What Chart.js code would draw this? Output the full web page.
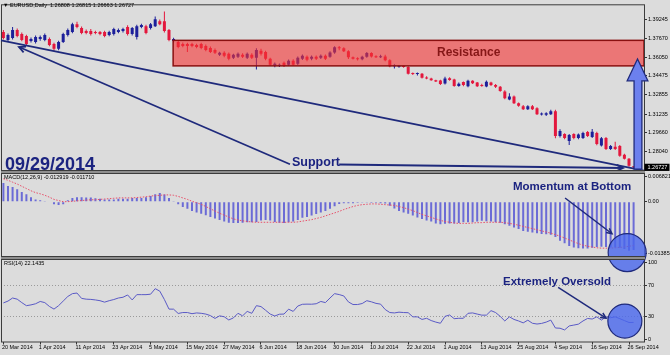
<!DOCTYPE html>
<html lang="en">
<head>
<meta charset="UTF-8">
<title>EURUSD Daily</title>
<script src="https://cdn.jsdelivr.net/npm/chart.js@4"></script>
<style>
  body { margin: 0; background: #dcdcdc; }
  #wrap { position: relative; width: 670px; height: 355px; overflow: hidden; font-family: "Liberation Sans", Arial, sans-serif; }
  #wrap canvas { position: absolute; left: 0; top: 0; }
  .lbl { position: absolute; white-space: nowrap; line-height: 1; }
  .small { font-size: 5.5px; color: #000; }
  .note { font-weight: bold; color: #1b2380; }
</style>
</head>
<body>
<div id="wrap">
  <canvas id="chart" width="670" height="355"></canvas>
  <div class="lbl small" style="left:3px;top:3.3px">&#9660; EURUSD,Daily&nbsp; 1.26808 1.26815 1.26663 1.26727</div>
  <div class="lbl small" style="left:4px;top:174.8px">MACD(12,26,9) -0.012919 -0.011710</div>
  <div class="lbl small" style="left:4px;top:261.3px">RSI(14) 22.1435</div>
  <div class="lbl note" style="left:5px;top:154.6px;font-size:18px">09/29/2014</div>
  <div class="lbl note" style="left:292px;top:156.4px;font-size:12.5px">Support</div>
  <div class="lbl note" style="left:437px;top:46.4px;font-size:12px;color:#861717">Resistance</div>
  <div class="lbl note" style="left:513px;top:180.5px;font-size:11.5px">Momentum at Bottom</div>
  <div class="lbl note" style="left:503px;top:275.5px;font-size:11.5px">Extremely Oversold</div>
</div>
<script>
// daily EURUSD candles, 20 Mar 2014 .. 29 Sep 2014 (one entry per trading day)
const opens = [
  1.3818, 1.3751, 1.3768, 1.3835, 1.3801, 1.3785, 1.3743, 1.3734, 1.3760, 1.3751,
  1.3760, 1.3718, 1.3676, 1.3734, 1.3793, 1.3818, 1.3885, 1.3852, 1.3827, 1.3827,
  1.3818, 1.3818, 1.3818, 1.3793, 1.3801, 1.3818, 1.3827, 1.3860, 1.3801, 1.3776,
  1.3860, 1.3868, 1.3852, 1.3868, 1.3910, 1.3910, 1.3835, 1.3743, 1.3734, 1.3718,
  1.3718, 1.3718, 1.3709, 1.3718, 1.3701, 1.3684, 1.3667, 1.3625, 1.3642, 1.3634,
  1.3600, 1.3609, 1.3625, 1.3600, 1.3625, 1.3600, 1.3659, 1.3650, 1.3592, 1.3533,
  1.3533, 1.3558, 1.3542, 1.3575, 1.3550, 1.3592, 1.3609, 1.3592, 1.3609, 1.3600,
  1.3617, 1.3609, 1.3645, 1.3690, 1.3680, 1.3655, 1.3605, 1.3592, 1.3588, 1.3610,
  1.3640, 1.3612, 1.3605, 1.3612, 1.3580, 1.3528, 1.3525, 1.3528, 1.3522, 1.3465,
  1.3462, 1.3465, 1.3432, 1.3425, 1.3410, 1.3408, 1.3382, 1.3428, 1.3416, 1.3362,
  1.3395, 1.3360, 1.3405, 1.3390, 1.3370, 1.3358, 1.3390, 1.3370, 1.3355, 1.3315,
  1.3248, 1.3273, 1.3215, 1.3190, 1.3165, 1.3190, 1.3173, 1.3120, 1.3118, 1.3123,
  1.3148, 1.2938, 1.2955, 1.2896, 1.2955, 1.2922, 1.2922, 1.2971, 1.2930, 1.2963,
  1.2858, 1.2922, 1.2829, 1.2846, 1.2854, 1.2780, 1.2746, 1.26808
];
const highs = [
  1.3835, 1.3805, 1.3860, 1.3848, 1.3815, 1.3795, 1.3772, 1.3790, 1.3788, 1.3805,
  1.3772, 1.3728, 1.3745, 1.3812, 1.3848, 1.3898, 1.3905, 1.3865, 1.3840, 1.3845,
  1.3830, 1.3828, 1.3830, 1.3830, 1.3855, 1.3848, 1.3855, 1.3875, 1.3862, 1.3880,
  1.3888, 1.3880, 1.3895, 1.3950, 1.3925, 1.3993, 1.3845, 1.3770, 1.3745, 1.3730,
  1.3728, 1.3728, 1.3720, 1.3728, 1.3712, 1.3695, 1.3678, 1.3652, 1.3655, 1.3645,
  1.3635, 1.3645, 1.3638, 1.3645, 1.3638, 1.3680, 1.3677, 1.3660, 1.3600, 1.3560,
  1.3552, 1.3568, 1.3585, 1.3588, 1.3612, 1.3628, 1.3620, 1.3620, 1.3620, 1.3628,
  1.3628, 1.3655, 1.3698, 1.3700, 1.3690, 1.3665, 1.3612, 1.3605, 1.3618, 1.3650,
  1.3648, 1.3622, 1.3625, 1.3625, 1.3588, 1.3545, 1.3540, 1.3535, 1.3528, 1.3475,
  1.3475, 1.3472, 1.3445, 1.3432, 1.3415, 1.3415, 1.3440, 1.3435, 1.3422, 1.3390,
  1.3400, 1.3415, 1.3410, 1.3395, 1.3380, 1.3408, 1.3398, 1.3378, 1.3362, 1.3325,
  1.3300, 1.3280, 1.3222, 1.3200, 1.3198, 1.3200, 1.3182, 1.3138, 1.3140, 1.3160,
  1.3160, 1.2995, 1.2962, 1.2955, 1.2962, 1.2960, 1.2975, 1.2980, 1.2998, 1.2975,
  1.2930, 1.2930, 1.2862, 1.2890, 1.2862, 1.2788, 1.2752, 1.26815
];
const lows = [
  1.3755, 1.3740, 1.3755, 1.3775, 1.3740, 1.3705, 1.3730, 1.3722, 1.3745, 1.3740,
  1.3698, 1.3660, 1.3665, 1.3725, 1.3780, 1.3808, 1.3850, 1.3800, 1.3800, 1.3790,
  1.3800, 1.3792, 1.3775, 1.3782, 1.3790, 1.3808, 1.3815, 1.3790, 1.3790, 1.3755,
  1.3850, 1.3800, 1.3840, 1.3860, 1.3875, 1.3815, 1.3740, 1.3730, 1.3680, 1.3690,
  1.3650, 1.3690, 1.3682, 1.3672, 1.3655, 1.3640, 1.3632, 1.3615, 1.3605, 1.3580,
  1.3590, 1.3598, 1.3598, 1.3590, 1.3590, 1.3502, 1.3620, 1.3580, 1.3530, 1.3520,
  1.3522, 1.3522, 1.3530, 1.3532, 1.3540, 1.3582, 1.3572, 1.3580, 1.3582, 1.3590,
  1.3582, 1.3600, 1.3635, 1.3665, 1.3650, 1.3590, 1.3585, 1.3578, 1.3580, 1.3600,
  1.3602, 1.3598, 1.3598, 1.3570, 1.3520, 1.3510, 1.3515, 1.3515, 1.3458, 1.3455,
  1.3450, 1.3425, 1.3418, 1.3405, 1.3395, 1.3370, 1.3375, 1.3405, 1.3355, 1.3355,
  1.3360, 1.3350, 1.3378, 1.3352, 1.3355, 1.3350, 1.3362, 1.3345, 1.3312, 1.3250,
  1.3240, 1.3208, 1.3185, 1.3158, 1.3158, 1.3158, 1.3115, 1.3112, 1.3108, 1.3115,
  1.2920, 1.2925, 1.2910, 1.2862, 1.2910, 1.2910, 1.2912, 1.2930, 1.2922, 1.2860,
  1.2850, 1.2820, 1.2820, 1.2820, 1.2762, 1.2738, 1.2678, 1.26663
];
const closes = [
  1.3768, 1.3793, 1.3835, 1.3785, 1.3751, 1.3718, 1.3760, 1.3776, 1.3776, 1.3793,
  1.3709, 1.3676, 1.3734, 1.3801, 1.3835, 1.3885, 1.3860, 1.3810, 1.3810, 1.3801,
  1.3810, 1.3801, 1.3785, 1.3818, 1.3843, 1.3835, 1.3843, 1.3801, 1.3852, 1.3868,
  1.3877, 1.3810, 1.3885, 1.3927, 1.3885, 1.3827, 1.3751, 1.3760, 1.3692, 1.3701,
  1.3701, 1.3701, 1.3692, 1.3684, 1.3667, 1.3650, 1.3642, 1.3642, 1.3617, 1.3592,
  1.3625, 1.3634, 1.3609, 1.3634, 1.3600, 1.3667, 1.3634, 1.3592, 1.3542, 1.3550,
  1.3542, 1.3533, 1.3575, 1.3542, 1.3600, 1.3617, 1.3584, 1.3609, 1.3592, 1.3617,
  1.3592, 1.3645, 1.3690, 1.3680, 1.3655, 1.3605, 1.3592, 1.3588, 1.3610, 1.3640,
  1.3612, 1.3605, 1.3612, 1.3580, 1.3528, 1.3530, 1.3528, 1.3522, 1.3465, 1.3462,
  1.3465, 1.3432, 1.3425, 1.3410, 1.3400, 1.3378, 1.3424, 1.3412, 1.3362, 1.3380,
  1.3370, 1.3405, 1.3385, 1.3360, 1.3362, 1.3398, 1.3370, 1.3355, 1.3320, 1.3257,
  1.3273, 1.3215, 1.3195, 1.3165, 1.3190, 1.3165, 1.3123, 1.3128, 1.3131, 1.3148,
  1.2938, 1.2980, 1.2922, 1.2946, 1.2922, 1.2950, 1.2963, 1.2938, 1.2975, 1.2871,
  1.2920, 1.2829, 1.2854, 1.2829, 1.2771, 1.2746, 1.2687, 1.26727
];

// MACD(12,26,9): main line drawn as histogram, signal as dotted line
const macdHist = [
  0.0050, 0.0042, 0.0039, 0.0033, 0.0026, 0.0020, 0.0012, 0.0006, 0.0004, 0.0002,
  0.0000, -0.0007, -0.0009, -0.0007, 0.0004, 0.0010, 0.0012, 0.0012, 0.0011, 0.0011,
  0.0009, 0.0008, 0.0006, 0.0006, 0.0006, 0.0008, 0.0008, 0.0008, 0.0010, 0.0010,
  0.0010, 0.0012, 0.0015, 0.0020, 0.0023, 0.0019, 0.0010, 0.0002, -0.0007, -0.0014,
  -0.0019, -0.0025, -0.0029, -0.0032, -0.0036, -0.0041, -0.0045, -0.0049, -0.0053, -0.0056,
  -0.0057, -0.0057, -0.0056, -0.0055, -0.0055, -0.0054, -0.0050, -0.0049, -0.0050, -0.0054,
  -0.0056, -0.0057, -0.0055, -0.0053, -0.0049, -0.0043, -0.0041, -0.0037, -0.0033, -0.0029,
  -0.0025, -0.0019, -0.0012, -0.0006, -0.0004, -0.0004, -0.0004, -0.0003, -0.0002, -0.0002,
  -0.0003, -0.0003, -0.0004, -0.0005, -0.0011, -0.0018, -0.0025, -0.0029, -0.0032, -0.0037,
  -0.0042, -0.0046, -0.0050, -0.0053, -0.0058, -0.0060, -0.0059, -0.0058, -0.0058, -0.0057,
  -0.0055, -0.0055, -0.0055, -0.0053, -0.0051, -0.0052, -0.0053, -0.0055, -0.0056, -0.0060,
  -0.0064, -0.0069, -0.0073, -0.0078, -0.0080, -0.0082, -0.0084, -0.0086, -0.0087, -0.0088,
  -0.0094, -0.0104, -0.0111, -0.0118, -0.0122, -0.0124, -0.0125, -0.0125, -0.0123, -0.0121,
  -0.0120, -0.0121, -0.0122, -0.0122, -0.0123, -0.0126, -0.0131, -0.0129
];
const macdSignal = [
  0.0061, 0.0057, 0.0052, 0.0047, 0.0041, 0.0035, 0.0029, 0.0024, 0.0021, 0.0017,
  0.0012, 0.0006, 0.0003, 0.0000, 0.0000, 0.0001, 0.0002, 0.0003, 0.0004, 0.0005,
  0.0005, 0.0006, 0.0007, 0.0008, 0.0009, 0.0010, 0.0010, 0.0010, 0.0010, 0.0011,
  0.0012, 0.0013, 0.0015, 0.0016, 0.0017, 0.0018, 0.0018, 0.0017, 0.0014, 0.0010,
  0.0006, 0.0001, -0.0003, -0.0007, -0.0013, -0.0019, -0.0025, -0.0031, -0.0036, -0.0041,
  -0.0046, -0.0049, -0.0051, -0.0053, -0.0054, -0.0055, -0.0055, -0.0055, -0.0055, -0.0055,
  -0.0055, -0.0055, -0.0055, -0.0055, -0.0054, -0.0052, -0.0050, -0.0048, -0.0045, -0.0042,
  -0.0038, -0.0034, -0.0030, -0.0026, -0.0021, -0.0017, -0.0013, -0.0010, -0.0008, -0.0007,
  -0.0006, -0.0006, -0.0007, -0.0008, -0.0009, -0.0010, -0.0013, -0.0016, -0.0020, -0.0024,
  -0.0029, -0.0034, -0.0038, -0.0042, -0.0046, -0.0050, -0.0053, -0.0055, -0.0057, -0.0058,
  -0.0058, -0.0058, -0.0057, -0.0056, -0.0056, -0.0055, -0.0055, -0.0055, -0.0055, -0.0056,
  -0.0058, -0.0060, -0.0063, -0.0066, -0.0069, -0.0072, -0.0075, -0.0078, -0.0081, -0.0084,
  -0.0088, -0.0092, -0.0097, -0.0102, -0.0107, -0.0112, -0.0116, -0.0119, -0.0121, -0.0123,
  -0.0124, -0.0124, -0.0124, -0.0123, -0.0122, -0.0121, -0.0119, -0.0117
];

// RSI(14)
const rsiValues = [
  47.6, 50, 54, 52.5, 48, 44, 45, 46.5, 49.5, 48,
  43, 39.5, 44, 50, 56, 59.7, 60.5, 53.5, 52.5, 52.2,
  51.5, 50.5, 48.6, 50.5, 52, 54, 55, 58, 51.5, 58.4,
  58.4, 58.4, 59, 66.2, 63, 52, 39.5, 39.4, 33.8, 35,
  35, 33.5, 34.5, 34, 33, 31, 27.3, 30.7, 29.5, 25.3,
  28, 34, 30.7, 36.5, 34, 44, 42.8, 38, 33, 30.5,
  32.8, 33, 39.4, 36.5, 43.5, 45.8, 46, 45.9, 46.5, 49.5,
  48, 54, 59.7, 58.5, 56.7, 48.9, 45.5, 45.5, 46.8, 50.5,
  49, 47, 46, 39, 35, 34.5, 35.5, 35, 34.8, 29.4,
  29.4, 26, 27.5, 24.5, 22.5, 21, 30, 31.8, 27, 27.5,
  27.5, 34, 34.5, 33, 31.6, 31.6, 37.5, 35, 30, 24,
  29.4, 26, 24, 21.5, 25, 21, 20, 20.8, 22.5, 25.1,
  14.8, 14.5, 12.3, 17.5, 18.6, 19.8, 24, 27.3, 26.5, 29.4,
  25.1, 29.4, 28.2, 29.4, 27, 24.5, 22, 22.1
];

const tickBars = [0, 8, 16, 24, 32, 40, 48, 56, 64, 72, 80, 88, 96, 104, 112, 120, 128, 136];
const tickLabels = ['20 Mar 2014', '1 Apr 2014', '11 Apr 2014', '23 Apr 2014', '5 May 2014',
  '15 May 2014', '27 May 2014', '6 Jun 2014', '18 Jun 2014', '30 Jun 2014', '10 Jul 2014',
  '22 Jul 2014', '1 Aug 2014', '13 Aug 2014', '25 Aug 2014', '4 Sep 2014', '16 Sep 2014', '26 Sep 2014'];
const priceTicks = [1.39245, 1.37670, 1.36050, 1.34475, 1.32855, 1.31235, 1.29660, 1.28040];
const macdTicks = [0.006821, 0, -0.013855];
const rsiTicks = [100, 70, 30, 0];
const lastPrice = 1.26727;

const bullColor = '#1c1f9a';
const bearColor = '#e3173d';
const navy = '#1f2a7c';
const axisFont = { family: 'Liberation Sans', size: 5.5 };

const idx = closes.map((_, i) => i);
const candleColors = idx.map(i => closes[i] >= opens[i] ? bullColor : bearColor);

// drawings, placed in data units (bar index / panel value)
const drawings = {
  zone: { fromBar: 36.9, top: 1.37479, bottom: 1.35318 },
  trend: [[-0.52, 1.37479], [139.26, 1.26445]],
  toLeft: [[62.3, 1.26992], [3.4, 1.36915]],
  toRight: [[73.0, 1.26967], [134.7, 1.26672]],
  upArrow: { shaft: [137.1, 138.8], head: [135.6, 140.1], tipBar: 137.85, tip: 1.35906, base: 1.34056, bottom: 1.26571 },
  macdCircle: { bar: 135.6, value: -0.01359, r: 19 },
  macdArrow: [[122.1, 0.00098], [132.3, -0.00856]],
  rsiCircle: { bar: 135.1, value: 23.8, r: 17 },
  rsiArrow: [[120.6, 67.9], [131.0, 27.7]]
};

function arrowHead(ctx, x0, y0, x1, y1, size) {
  const a = Math.atan2(y1 - y0, x1 - x0);
  ctx.beginPath();
  ctx.moveTo(x1 - size * Math.cos(a - 0.45), y1 - size * Math.sin(a - 0.45));
  ctx.lineTo(x1, y1);
  ctx.lineTo(x1 - size * Math.cos(a + 0.45), y1 - size * Math.sin(a + 0.45));
  ctx.stroke();
}

const mt4Overlay = {
  id: 'mt4Overlay',
  beforeDraw(chart) {
    const ctx = chart.ctx;
    ctx.save();
    ctx.fillStyle = '#dcdcdc';
    ctx.fillRect(0, 0, chart.width, chart.height);
    ctx.restore();
  },
  afterDatasetsDraw(chart) {
    const { ctx, chartArea: a } = chart;
    const { x, yPrice, yMacd, yRsi } = chart.scales;
    const px = v => x.getPixelForValue(v);
    const d = drawings;
    ctx.save();

    // resistance zone
    const zx = px(d.zone.fromBar), zy0 = yPrice.getPixelForValue(d.zone.top), zy1 = yPrice.getPixelForValue(d.zone.bottom);
    ctx.fillStyle = 'rgba(245,50,50,0.6)';
    ctx.fillRect(zx, zy0, a.right - zx, zy1 - zy0);
    ctx.strokeStyle = '#8a1010';
    ctx.lineWidth = 1.5;
    ctx.strokeRect(zx, zy0, a.right - zx, zy1 - zy0);

    // panel borders
    ctx.strokeStyle = '#3c3c3c';
    ctx.lineWidth = 1;
    ctx.strokeRect(a.left + 0.5, a.top + 0.5, a.right - a.left, a.bottom - a.top);

    // support lines
    ctx.strokeStyle = navy;
    ctx.lineWidth = 1.8;
    const seg = (p, head) => {
      const x0 = px(p[0][0]), y0 = yPrice.getPixelForValue(p[0][1]);
      const x1 = px(p[1][0]), y1 = yPrice.getPixelForValue(p[1][1]);
      ctx.beginPath(); ctx.moveTo(x0, y0); ctx.lineTo(x1, y1); ctx.stroke();
      if (head) arrowHead(ctx, x0, y0, x1, y1, 7);
    };
    seg(d.trend, false);
    seg(d.toLeft, true);
    seg(d.toRight, true);

    // big up arrow
    const u = d.upArrow;
    const sL = px(u.shaft[0]), sR = px(u.shaft[1]), hL = px(u.head[0]), hR = px(u.head[1]);
    const tX = px(u.tipBar), tY = yPrice.getPixelForValue(u.tip), bY = yPrice.getPixelForValue(u.base), btm = yPrice.getPixelForValue(u.bottom);
    ctx.beginPath();
    ctx.moveTo(sL, btm); ctx.lineTo(sL, bY); ctx.lineTo(hL, bY); ctx.lineTo(tX, tY);
    ctx.lineTo(hR, bY); ctx.lineTo(sR, bY); ctx.lineTo(sR, btm); ctx.closePath();
    ctx.fillStyle = '#6c80ee';
    ctx.fill();
    ctx.strokeStyle = navy;
    ctx.lineWidth = 1.3;
    ctx.stroke();

    // circles and their pointers
    const circle = (c, scale) => {
      ctx.beginPath();
      ctx.arc(px(c.bar), scale.getPixelForValue(c.value), c.r, 0, Math.PI * 2);
      ctx.fillStyle = 'rgba(72,102,238,0.8)';
      ctx.fill();
      ctx.strokeStyle = navy;
      ctx.lineWidth = 1.2;
      ctx.stroke();
    };
    const pointer = (p, scale) => {
      const x0 = px(p[0][0]), y0 = scale.getPixelForValue(p[0][1]);
      const x1 = px(p[1][0]), y1 = scale.getPixelForValue(p[1][1]);
      ctx.strokeStyle = navy;
      ctx.lineWidth = 1.5;
      ctx.beginPath(); ctx.moveTo(x0, y0); ctx.lineTo(x1, y1); ctx.stroke();
      arrowHead(ctx, x0, y0, x1, y1, 6);
    };
    circle(d.macdCircle, yMacd);
    pointer(d.macdArrow, yMacd);
    circle(d.rsiCircle, yRsi);
    pointer(d.rsiArrow, yRsi);

    // separators between the three windows
    const sep = y => {
      ctx.fillStyle = '#3c3c3c';
      ctx.fillRect(a.left, y, a.right - a.left + 1, 1);
      ctx.fillStyle = '#8e8e8e';
      ctx.fillRect(a.left, y + 1, a.right - a.left + 1, 2);
      ctx.fillStyle = '#3c3c3c';
      ctx.fillRect(a.left, y + 3, a.right - a.left + 1, 1);
    };
    sep(170);
    sep(256);

    // current price marker
    const ly = yPrice.getPixelForValue(lastPrice);
    ctx.fillStyle = '#000';
    ctx.fillRect(a.right + 0.5, ly - 3.6, 25, 7.2);
    ctx.fillStyle = '#fff';
    ctx.font = '5.5px "Liberation Sans"';
    ctx.textBaseline = 'middle';
    ctx.fillText(lastPrice.toFixed(5), a.right + 3.5, ly + 0.3);
    ctx.restore();
  }
};

const rightAxis = (weight, min, max, ticks, fmt, grid) => ({
  type: 'linear',
  position: 'right',
  stack: 'panes',
  stackWeight: weight,
  min: min,
  max: max,
  afterBuildTicks: s => { s.ticks = ticks.map(v => ({ value: v })); },
  afterFit: s => { s.width = 26; },
  ticks: { autoSkip: false, font: axisFont, color: '#000', padding: 1, callback: fmt },
  grid: grid,
  border: { display: false, dash: [1, 2] }
});

new Chart(document.getElementById('chart'), {
  type: 'bar',
  data: {
    datasets: [
      { type: 'bar', label: 'body', yAxisID: 'yPrice', order: 0,
        data: idx.map(i => ({ x: i, y: [opens[i], closes[i]] })),
        backgroundColor: candleColors, barThickness: 3, minBarLength: 1, grouped: false, inflateAmount: 0 },
      { type: 'bar', label: 'wick', yAxisID: 'yPrice', order: 1,
        data: idx.map(i => ({ x: i, y: [lows[i], highs[i]] })),
        backgroundColor: candleColors, barThickness: 1, grouped: false, inflateAmount: 0 },
      { type: 'bar', label: 'MACD', yAxisID: 'yMacd', order: 3,
        data: idx.map(i => ({ x: i, y: macdHist[i] })),
        backgroundColor: '#6b6bd6', barThickness: 2, grouped: false, inflateAmount: 0 },
      { type: 'line', label: 'Signal', yAxisID: 'yMacd', order: 2,
        data: idx.map(i => ({ x: i, y: macdSignal[i] })),
        borderColor: '#e8506a', borderWidth: 1, borderDash: [1.5, 1.5], pointRadius: 0, tension: 0 },
      { type: 'line', label: 'RSI', yAxisID: 'yRsi', order: 2,
        data: idx.map(i => ({ x: i, y: rsiValues[i] })),
        borderColor: '#5a5ac6', borderWidth: 1, pointRadius: 0, tension: 0 }
    ]
  },
  options: {
    responsive: false,
    animation: false,
    events: [],
    layout: { padding: { top: 2, left: 1, right: 0, bottom: 0 } },
    plugins: { legend: { display: false }, tooltip: { enabled: false } },
    scales: {
      x: {
        type: 'linear', min: -0.52, max: 139.26, offset: false,
        afterBuildTicks: s => { s.ticks = tickBars.map(v => ({ value: v })); },
        afterFit: s => { s.height = 13.5; },
        ticks: { autoSkip: false, maxRotation: 0, align: 'start', labelOffset: -1.5, padding: 0,
          font: axisFont, color: '#000', callback: (v, i) => tickLabels[i] },
        grid: { drawOnChartArea: false, offset: false, tickLength: 3, tickColor: '#333' },
        border: { display: false }
      },
      yPrice: rightAxis(170, 1.262349, 1.405317, priceTicks, v => v.toFixed(5),
        { drawOnChartArea: false, tickLength: 3, tickColor: '#333' }),
      yMacd: rightAxis(86, -0.015179, 0.007603, macdTicks, v => v === 0 ? '0.00' : v.toFixed(6),
        { drawOnChartArea: false, tickLength: 3, tickColor: '#333' }),
      yRsi: rightAxis(83.5, -2.857, 105.58, rsiTicks, v => String(v),
        { tickLength: 3, tickColor: '#333',
          color: c => (c.tick && (c.tick.value === 70 || c.tick.value === 30)) ? '#9a9a9a' : 'rgba(0,0,0,0)' })
    }
  },
  plugins: [mt4Overlay]
});
</script>
</body>
</html>
